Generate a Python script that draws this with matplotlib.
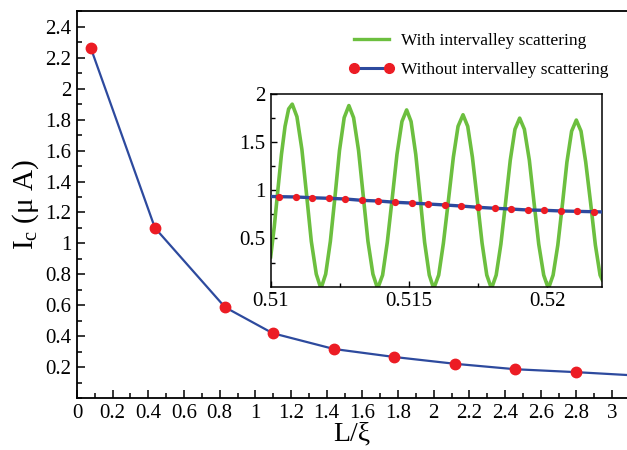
import matplotlib
matplotlib.use('Agg')
import matplotlib.pyplot as plt
from matplotlib.ticker import MultipleLocator, FixedLocator

# main curve: Ic vs L/xi
main_x = [0.077, 0.437, 0.83, 1.097, 1.44, 1.78, 2.12, 2.457, 2.80, 3.14]
main_y = [2.265, 1.10, 0.587, 0.419, 0.317, 0.265, 0.221, 0.186, 0.167, 0.145]

# inset: with intervalley scattering (green)
green_x = [0.51000, 0.51013, 0.51026, 0.51039, 0.51052, 0.51065, 0.51078,
           0.51095, 0.51113, 0.51130, 0.51147, 0.51165, 0.51182,
           0.51199, 0.51216, 0.51233, 0.51249, 0.51266, 0.51283,
           0.51300, 0.51318, 0.51335, 0.51352, 0.51370, 0.51387,
           0.51405, 0.51422, 0.51440, 0.51457, 0.51475, 0.51492,
           0.51508, 0.51525, 0.51541, 0.51557, 0.51574, 0.51590,
           0.51608, 0.51625, 0.51643, 0.51661, 0.51678, 0.51696,
           0.51713, 0.51730, 0.51748, 0.51765, 0.51782, 0.51799,
           0.51816, 0.51833, 0.51850, 0.51867, 0.51884, 0.51901,
           0.51918, 0.51936, 0.51953, 0.51970, 0.51988, 0.52005,
           0.52022, 0.52039, 0.52056, 0.52072, 0.52089, 0.52106,
           0.52123, 0.52140, 0.52158, 0.52175, 0.52192, 0.52200]
green_y = [0.31, 0.62, 1.00, 1.37, 1.66, 1.84, 1.89,
           1.76, 1.42, 0.95, 0.47, 0.13, -0.02,
           0.13, 0.47, 0.94, 1.41, 1.75, 1.875,
           1.75, 1.41, 0.94, 0.47, 0.13, -0.02,
           0.12, 0.46, 0.92, 1.37, 1.71, 1.83,
           1.71, 1.37, 0.92, 0.46, 0.12, -0.02,
           0.12, 0.45, 0.89, 1.34, 1.66, 1.78,
           1.66, 1.34, 0.89, 0.45, 0.12, -0.02,
           0.12, 0.44, 0.87, 1.31, 1.63, 1.745,
           1.63, 1.31, 0.87, 0.44, 0.12, -0.02,
           0.12, 0.43, 0.86, 1.29, 1.61, 1.725,
           1.61, 1.29, 0.86, 0.43, 0.12, 0.07]

# inset: without intervalley scattering (blue line, red dots)
blue_x = [0.5100, 0.5103, 0.5109, 0.5115, 0.5121, 0.5127, 0.5133, 0.5139,
          0.5145, 0.5151, 0.5157, 0.5163, 0.5169, 0.5175, 0.5181, 0.5187,
          0.5193, 0.5199, 0.5205, 0.5211, 0.5217, 0.5220]
blue_y = [0.934, 0.932, 0.929, 0.921, 0.915, 0.908, 0.894, 0.887,
          0.874, 0.866, 0.856, 0.846, 0.835, 0.822, 0.812, 0.804,
          0.794, 0.791, 0.784, 0.780, 0.776, 0.774]

BLUE = '#2d4a9e'
RED = '#ec1c24'
GREEN = '#6cbf3f'
SERIF = 'Liberation Serif'

plt.rcParams['font.family'] = SERIF
plt.rcParams['mathtext.fontset'] = 'custom'
plt.rcParams['mathtext.rm'] = SERIF
plt.rcParams['mathtext.it'] = SERIF + ':italic'

fig = plt.figure(figsize=(6.27, 4.5), dpi=100, facecolor='white')
ax = fig.add_axes([0.1228, 0.1156, 0.8772, 0.8589])

ax.plot(main_x, main_y, color=BLUE, lw=1.6, marker='o', ms=7.5,
        mfc=RED, mec=RED, zorder=3)
ax.set_xlim(0, 3.084)
ax.set_ylim(0, 2.5)
ax.xaxis.set_major_locator(MultipleLocator(0.2))
ax.xaxis.set_minor_locator(MultipleLocator(0.1))
ax.yaxis.set_major_locator(FixedLocator([0.2, 0.4, 0.6, 0.8, 1.0, 1.2, 1.4,
                                         1.6, 1.8, 2.0, 2.2, 2.4]))
ax.yaxis.set_minor_locator(MultipleLocator(0.1))
ax.xaxis.set_major_formatter(plt.FuncFormatter(lambda v, p: f'{v:g}'))
ax.yaxis.set_major_formatter(plt.FuncFormatter(lambda v, p: f'{v:g}'))
ax.tick_params(which='both', direction='in', top=False, right=False,
               width=1.1, labelsize=15, pad=4)
ax.tick_params(which='major', length=6)
ax.tick_params(which='minor', length=3.5)
ax.spines['right'].set_visible(False)
for s in ['left', 'bottom', 'top']:
    ax.spines[s].set_linewidth(1.3)

ax.set_xlabel('L/ξ', fontsize=20, labelpad=-1)
ax.set_ylabel(r'I$_\mathrm{c}$ (μ A)', fontsize=21, labelpad=3)

# legend entries (drawn from the inset data style)
h_green, = ax.plot([], [], color=GREEN, lw=2.4, label='With intervalley scattering')
h_blue, = ax.plot([], [], color=BLUE, lw=2.2, marker='o', ms=7,
                  mfc=RED, mec=RED, label='Without intervalley scattering')
leg = ax.legend(handles=[h_green, h_blue], loc='upper right',
                bbox_to_anchor=(0.995, 0.985), frameon=False,
                fontsize=12.5, handlelength=2.6, handletextpad=0.4,
                labelspacing=0.75, numpoints=2)

# inset
ins = fig.add_axes([0.4317, 0.3629, 0.5289, 0.4293])
ins.plot(green_x, green_y, color=GREEN, lw=2.6, zorder=2)
ins.plot(blue_x, blue_y, color=BLUE, lw=2.4, marker='o', ms=4.2,
         mfc=RED, mec=RED, markevery=slice(1, -1), zorder=3)
ins.set_xlim(0.51, 0.5220)
ins.set_ylim(0, 2.0)
ins.xaxis.set_major_locator(FixedLocator([0.51, 0.515, 0.52]))
ins.xaxis.set_minor_locator(FixedLocator([0.5125, 0.5175]))
ins.yaxis.set_major_locator(FixedLocator([0.5, 1.0, 1.5, 2.0]))
ins.yaxis.set_minor_locator(FixedLocator([0.25, 0.75, 1.25, 1.75]))
ins.xaxis.set_major_formatter(plt.FuncFormatter(lambda v, p: f'{v:g}'))
ins.yaxis.set_major_formatter(plt.FuncFormatter(lambda v, p: f'{v:g}'))
ins.tick_params(which='both', direction='in', top=False, right=False,
                width=1.0, labelsize=15, pad=4)
ins.tick_params(which='major', length=4.5)
ins.tick_params(which='minor', length=3)
for s in ins.spines.values():
    s.set_linewidth(1.1)

fig.savefig('out.png', dpi=100, facecolor='white')
